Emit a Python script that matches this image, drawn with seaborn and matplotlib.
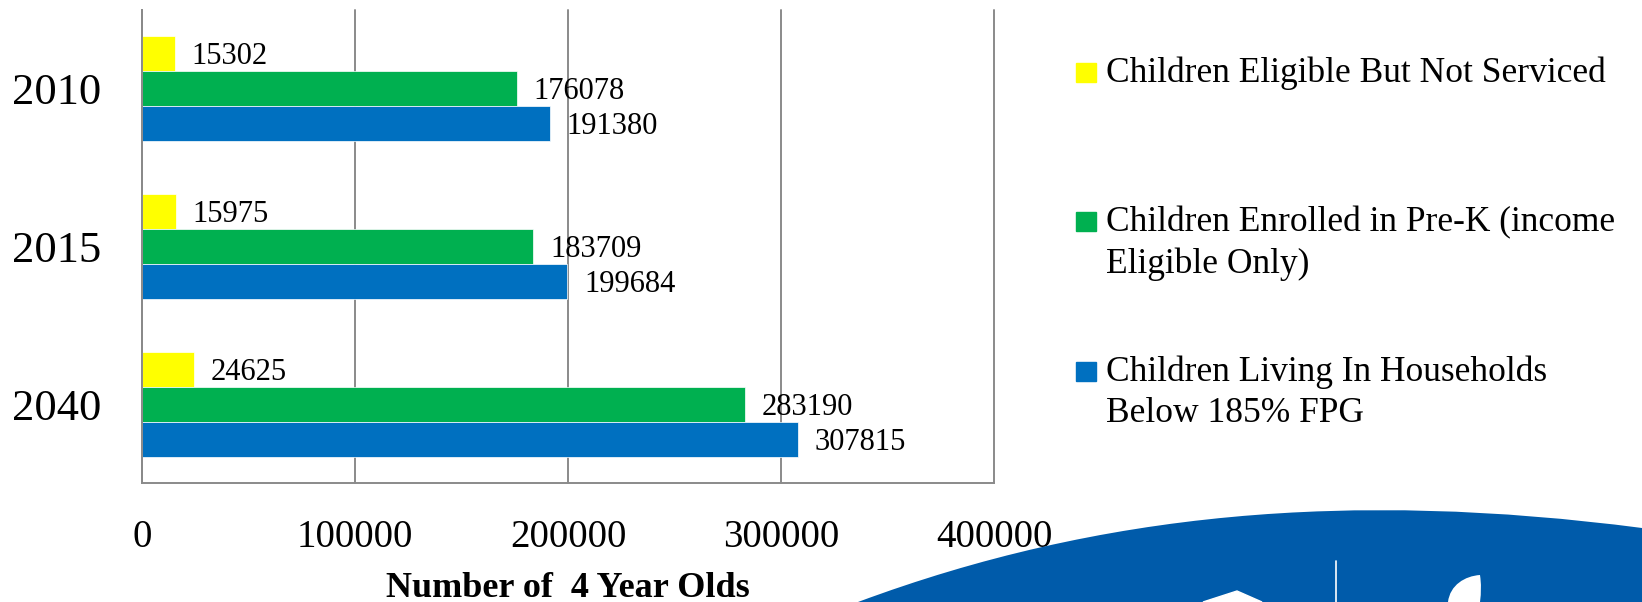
import matplotlib
matplotlib.use("Agg")
import matplotlib.pyplot as plt
import matplotlib.patches as mpatches
from matplotlib.path import Path
import pandas as pd
import seaborn as sns

# data
years = ["2010", "2015", "2040"]
series = ["Children Eligible But Not Serviced",
          "Children Enrolled in Pre-K (income Eligible Only)",
          "Children Living In Households Below 185% FPG"]
not_serviced = [15302, 15975, 24625]
enrolled = [176078, 183709, 283190]
below_fpg = [191380, 199684, 307815]
x_ticks = [0, 100000, 200000, 300000, 400000]
x_label = "Number of  4 Year Olds"
legend_lines = [["Children Eligible But Not Serviced"],
                ["Children Enrolled in Pre-K (income", "Eligible Only)"],
                ["Children Living In Households", "Below 185% FPG"]]
colors = ["#FFFF00", "#00B050", "#0070C0"]

sns.set_style("white")
plt.rcParams["font.family"] = ["Liberation Serif", "DejaVu Serif"]
plt.rcParams["text.color"] = "black"
plt.rcParams["axes.labelcolor"] = "black"

W, H = 1642, 602
GREY = "#8a8a8a"


def fx(x):
    return x / W


def fy(y):
    return 1 - y / H


df = pd.DataFrame({
    "year": years * 3,
    "series": [s for s in series for _ in years],
    "value": not_serviced + enrolled + below_fpg,
})

fig = plt.figure(figsize=(W / 100, H / 100), dpi=100)
ax = fig.add_axes([fx(142), fy(483), fx(994) - fx(142), fy(10) - fy(483)])

sns.barplot(data=df, y="year", x="value", hue="series", hue_order=series,
            order=years, orient="h", palette=colors, saturation=1,
            width=0.667, edgecolor="white", linewidth=0.5, legend=False, ax=ax)

for cont in ax.containers:
    labels = ax.bar_label(cont, fmt="%d", padding=12, fontsize=22, color="black")
    for t in labels:
        t.xyann = (12, -2.2)

ax.set_ylim(2.5, -0.5)
ax.set_xlim(0, 400000)
ax.set_xticks(x_ticks)
ax.set_xticklabels([str(t) for t in x_ticks])
ax.set_yticks(range(len(years)))
ax.set_yticklabels(years)
ax.set_yticks([-0.5, 0.5, 1.5, 2.5], minor=True)
ax.tick_params(axis="y", which="major", length=0, labelsize=32, pad=29,
               labelcolor="black")
ax.tick_params(axis="y", which="minor", length=8.6, width=1.3, color=GREY)
ax.tick_params(axis="x", length=8.6, width=1.3, color=GREY, labelsize=28,
               pad=17, labelcolor="black")
ax.set_ylabel("")
ax.set_xlabel(x_label, fontsize=26, fontweight="bold", labelpad=12)

ax.grid(axis="x", color=GREY, lw=1.4)
ax.set_axisbelow(True)
for g in ax.get_xgridlines():
    g.set_clip_on(False)
for side in ["top", "right"]:
    ax.spines[side].set_visible(False)
for side in ["left", "bottom"]:
    ax.spines[side].set_color(GREY)
    ax.spines[side].set_linewidth(1.4)

# legend drawn by hand so the squares line up with the first text line
baselines = [[82], [231, 273], [381, 422]]
for color, lines, bls in zip(colors, legend_lines, baselines):
    fig.patches.append(mpatches.Rectangle((fx(1076), fy(bls[0])), fx(20), 19 / H,
                                          transform=fig.transFigure, color=color))
    for line, bl in zip(lines, bls):
        fig.text(fx(1106), fy(bl), line, fontsize=25.5, va="baseline", ha="left")

# blue swoosh of the logo, bottom right
blue = "#005BAA"
verts = [(858, 602), (1100, 512), (1350, 490), (1642, 528), (1642, 602), (858, 602)]
codes = [Path.MOVETO, Path.CURVE4, Path.CURVE4, Path.CURVE4, Path.LINETO, Path.CLOSEPOLY]
swoosh = Path([(fx(x), fy(y)) for x, y in verts], codes)
fig.patches.append(mpatches.PathPatch(swoosh, transform=fig.transFigure,
                                      facecolor=blue, edgecolor="none"))
roof = [(1203, 602), (1237, 591), (1262, 602)]
fig.patches.append(mpatches.Polygon([(fx(x), fy(y)) for x, y in roof], closed=True,
                                    transform=fig.transFigure, color="white"))
fig.add_artist(plt.Line2D([fx(1336), fx(1336)], [fy(561), fy(602)],
                          transform=fig.transFigure, color="white", lw=1.2))
leaf_v = [(1448, 602), (1450, 585), (1465, 576), (1480, 575),
          (1482, 588), (1480, 602), (1448, 602)]
leaf_c = [Path.MOVETO, Path.CURVE4, Path.CURVE4, Path.CURVE4,
          Path.CURVE3, Path.CURVE3, Path.CLOSEPOLY]
leaf = Path([(fx(x), fy(y)) for x, y in leaf_v], leaf_c)
fig.patches.append(mpatches.PathPatch(leaf, transform=fig.transFigure,
                                      facecolor="white", edgecolor="none"))

fig.savefig("out.png", dpi=100)
